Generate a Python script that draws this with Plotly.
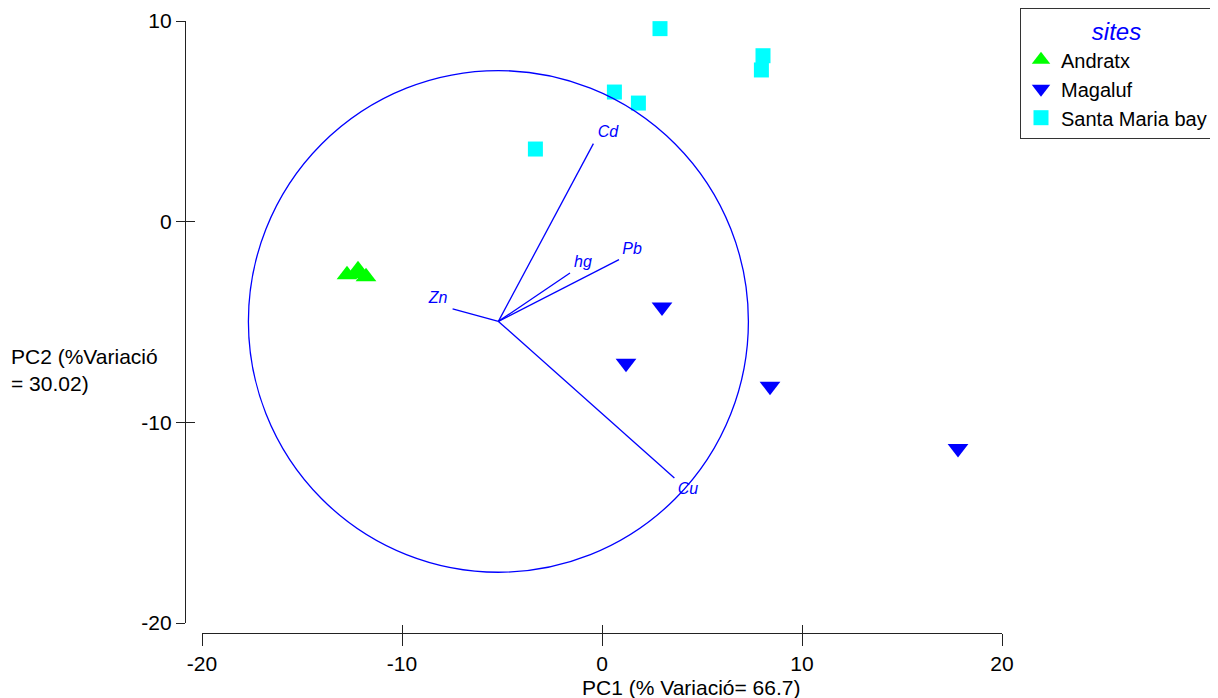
import plotly.graph_objects as go

# ---- data ----
andratx_x = [-12.75, -12.2, -11.8, -12.1]
andratx_y = [-2.65, -2.4, -2.75, -2.6]

magaluf_x = [3.0, 1.2, 8.4, 17.8]
magaluf_y = [-4.25, -7.05, -8.2, -11.3]

santa_x = [2.9, 8.05, 7.97, 0.62, 1.82, -3.33]
santa_y = [9.62, 8.27, 7.56, 6.46, 5.91, 3.62]

vec_names = ["Cd", "Pb", "hg", "Zn", "Cu"]
vec_origin = (-5.18, -4.97)
vec_end_x = [-0.43, 0.85, -1.6, -7.47, 3.62]
vec_end_y = [3.89, -1.89, -2.56, -4.35, -12.77]
vec_label_x = [0.3, 1.5, -0.95, -8.2, 4.3]
vec_label_y = [4.43, -1.4, -2.05, -3.84, -13.35]
circle_radius = 12.5

x_ticks = [-20, -10, 0, 10, 20]
x_tick_labels = ["-20", "-10", "0", "10", "20"]
y_ticks = [-20, -10, 0, 10]
y_tick_labels = ["-20", "-10", "0", "10"]

FONT = "Liberation Sans, Arial, sans-serif"
BLUE = "#0000ff"

fig = go.Figure()

# biplot vectors
vx, vy = [], []
for ex, ey in zip(vec_end_x, vec_end_y):
    vx += [vec_origin[0], ex, None]
    vy += [vec_origin[1], ey, None]
fig.add_trace(go.Scatter(x=vx, y=vy, mode="lines", line=dict(color=BLUE, width=1.3),
                         showlegend=False, hoverinfo="skip"))
fig.add_trace(go.Scatter(x=vec_label_x, y=vec_label_y, mode="text", text=vec_names,
                         textfont=dict(family=FONT, size=16, color=BLUE, style="italic"),
                         showlegend=False, hoverinfo="skip"))

# circle
fig.add_shape(type="circle", xref="x", yref="y",
              x0=vec_origin[0] - circle_radius, x1=vec_origin[0] + circle_radius,
              y0=vec_origin[1] - circle_radius, y1=vec_origin[1] + circle_radius,
              line=dict(color=BLUE, width=1.3))

# points
fig.add_trace(go.Scatter(x=andratx_x, y=andratx_y, mode="markers", name="Andratx",
                         marker=dict(symbol="triangle-up", size=18, color="#00ff00")))
fig.add_trace(go.Scatter(x=magaluf_x, y=magaluf_y, mode="markers", name="Magaluf",
                         marker=dict(symbol="triangle-down", size=18, color=BLUE)))
fig.add_trace(go.Scatter(x=santa_x, y=santa_y, mode="markers", name="Santa Maria bay",
                         marker=dict(symbol="square", size=15, color="#00ffff")))

# invisible trace for overlay axes (inner half of crossing ticks)
fig.add_trace(go.Scatter(x=[None], y=[None], xaxis="x2", yaxis="y2", showlegend=False))

# page body has an 8px margin: screen px -> figure px = screen - 8
OFF = 8
W, H = 1210, 690
ml, mr, mt, mb = 100, 200, 0, 40
pw, ph = W - ml - mr, H - mt - mb

def px_x(p):
    return (p - OFF - ml) / pw

def px_y(p):
    return (H - mb - (p - OFF)) / ph

xdom = [px_x(202), px_x(1002)]
ydom = [px_y(623), px_y(21)]
ypos = px_x(185)
xpos = px_y(633)

axis_common = dict(showgrid=False, zeroline=False, linecolor="#222", linewidth=1.2,
                   tickcolor="#222", tickwidth=1.2,
                   tickfont=dict(family=FONT, size=21, color="black"))

fig.update_layout(
    width=W, height=H,
    margin=dict(l=ml, r=mr, t=mt, b=mb, autoexpand=False),
    paper_bgcolor="white", plot_bgcolor="white",
    font=dict(family=FONT, color="black"),
    xaxis=dict(range=[-20, 20], domain=xdom, anchor="free", position=xpos,
               tickvals=x_ticks, ticktext=x_tick_labels, ticks="outside", ticklen=12,
               showline=True, **axis_common),
    yaxis=dict(range=[-20, 10], domain=ydom, anchor="free", position=ypos,
               tickvals=y_ticks, ticktext=y_tick_labels, ticks="outside", ticklen=9,
               showline=True, **axis_common),
    xaxis2=dict(range=[-20, 20], overlaying="x", anchor="free", position=xpos,
                tickvals=x_ticks, ticks="inside", ticklen=8, showticklabels=False,
                showline=False, showgrid=False, zeroline=False, tickcolor="#222", tickwidth=1.2),
    yaxis2=dict(range=[-20, 10], overlaying="y", anchor="free", position=ypos,
                tickvals=y_ticks, ticks="inside", ticklen=9, showticklabels=False,
                showline=False, showgrid=False, zeroline=False, tickcolor="#222", tickwidth=1.2),
    legend=dict(xref="container", yref="container",
                x=(1020 - OFF) / W, y=1.0, xanchor="left", yanchor="top",
                bordercolor="#333", borderwidth=1, bgcolor="white",
                font=dict(family=FONT, size=20, color="black"),
                title=dict(text="sites", side="top center",
                           font=dict(family=FONT, size=24, color=BLUE, style="italic")),
                itemsizing="trace", tracegroupgap=0),
    annotations=[
        dict(text="PC1 (% Variació= 66.7)", xref="paper", yref="paper",
             x=px_x(691), y=px_y(687), xanchor="center", yanchor="middle",
             showarrow=False, font=dict(family=FONT, size=21, color="black")),
        dict(text="PC2 (%Variació<br>= 30.02)", xref="paper", yref="paper",
             x=px_x(9), y=px_y(370), xanchor="left", yanchor="middle", align="left",
             showarrow=False, font=dict(family=FONT, size=21, color="black")),
    ],
)

fig.write_html("out.html")
